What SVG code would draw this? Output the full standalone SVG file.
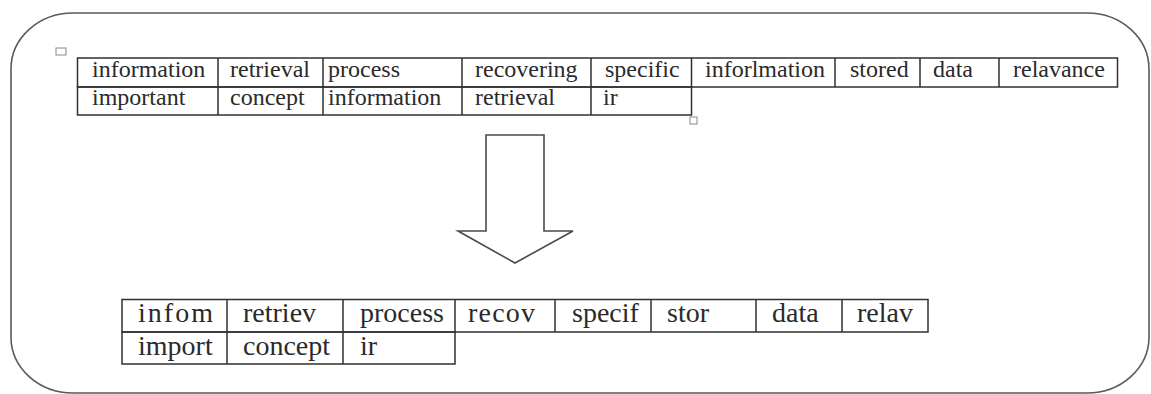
<svg xmlns="http://www.w3.org/2000/svg" width="1151" height="394" viewBox="0 0 1151 394">
  <style>
    .frame { fill: #ffffff; stroke: #5a5a5a; stroke-width: 1.6; }
    .grid { fill: none; stroke: #303030; stroke-width: 1.5; }
    text { font-family: 'Liberation Serif', 'DejaVu Serif', serif; fill: #2a2a2a; }
    .t1 { font-size: 24px; }
    .t2 { font-size: 28px; }
    .arrow { fill: #ffffff; stroke: #4a4a4a; stroke-width: 1.6; stroke-linejoin: miter; }
    .handle { fill: #ffffff; stroke: #8a8a8a; stroke-width: 1; }
  </style>

  <rect width="1151" height="394" fill="#ffffff"/>

  <!-- outer rounded panel -->
  <g id="frame">
    <rect class="frame" x="11" y="13" width="1138" height="380" rx="62" ry="56"/>
  </g>

  <!-- source term table -->
  <g id="table-top" font-family="Liberation Serif, serif">
    <rect class="handle" x="56" y="48" width="10" height="7" fill="#e8e8ee"/>
    <!-- row 1 outline and row 2 outline -->
    <rect class="grid" x="77.5" y="58" width="1040" height="29"/>
    <rect class="grid" x="77.5" y="87" width="614" height="28"/>
    <!-- column dividers -->
    <path class="grid" d="M218 58V115 M323 58V115 M462 58V115 M591 58V115 M691.5 58V87 M835 58V87 M920 58V87 M999 58V87"/>
    <rect class="handle" x="690" y="117" width="7" height="7"/>
    <text class="t1" x="92" y="77">information</text>
    <text class="t1" x="230" y="77">retrieval</text>
    <text class="t1" x="328" y="77">process</text>
    <text class="t1" x="475" y="77">recovering</text>
    <text class="t1" x="605" y="77">specific</text>
    <text class="t1" x="705" y="77">inforlmation</text>
    <text class="t1" x="850" y="77">stored</text>
    <text class="t1" x="933" y="77">data</text>
    <text class="t1" x="1013" y="77">relavance</text>
    <text class="t1" x="92" y="105">important</text>
    <text class="t1" x="230" y="105">concept</text>
    <text class="t1" x="328" y="105">information</text>
    <text class="t1" x="475" y="105">retrieval</text>
    <text class="t1" x="603" y="105">ir</text>
  </g>

  <!-- block arrow between the tables -->
  <g id="arrow">
    <path class="arrow" d="M486 135H544V231H573L515 263L458 231H486Z"/>
  </g>

  <!-- stemmed term table -->
  <g id="table-bottom" font-family="Liberation Serif, serif">
    <rect class="grid" x="122" y="299.5" width="806" height="32.5"/>
    <rect class="grid" x="122" y="332" width="333" height="32"/>
    <path class="grid" d="M227 299.5V364 M343 299.5V364 M455 299.5V332 M555 299.5V332 M651 299.5V332 M756 299.5V332 M842 299.5V332"/>
    <text class="t2" x="138" y="322" textLength="75" lengthAdjust="spacing">infom</text>
    <text class="t2" x="243" y="322">retriev</text>
    <text class="t2" x="360" y="322">process</text>
    <text class="t2" x="468" y="322" textLength="67" lengthAdjust="spacing">recov</text>
    <text class="t2" x="572" y="322">specif</text>
    <text class="t2" x="667" y="322">stor</text>
    <text class="t2" x="772" y="322">data</text>
    <text class="t2" x="857" y="322">relav</text>
    <text class="t2" x="138" y="355">import</text>
    <text class="t2" x="243" y="355">concept</text>
    <text class="t2" x="360" y="355">ir</text>
  </g>
</svg>
